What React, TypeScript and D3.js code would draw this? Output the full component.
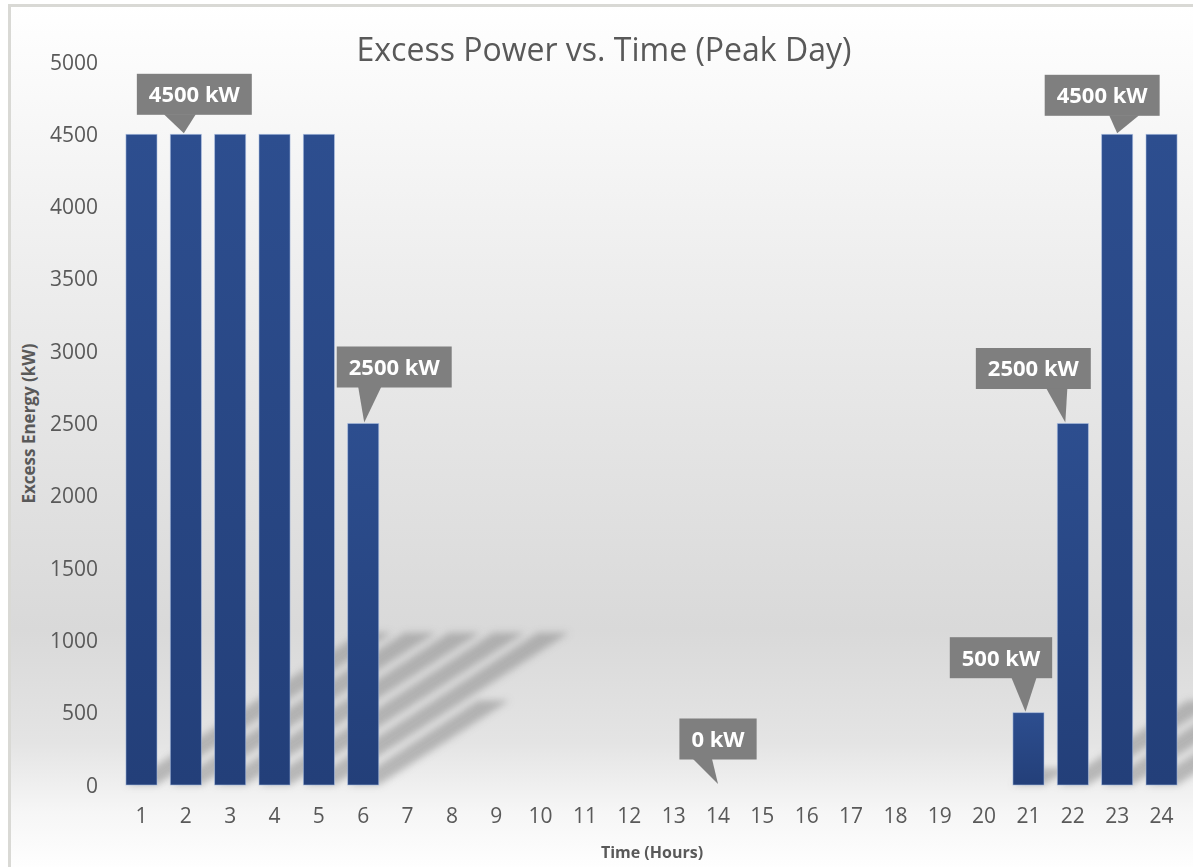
import React from 'react';
import * as d3 from 'd3';

const hours = ['1', '2', '3', '4', '5', '6', '7', '8', '9', '10', '11', '12', '13', '14', '15', '16', '17', '18', '19', '20', '21', '22', '23', '24'];
const excessKW = [4500, 4500, 4500, 4500, 4500, 2500, 0, 0, 0, 0, 0, 0, 0, 0, 0, 0, 0, 0, 0, 0, 500, 2500, 4500, 4500];
const yTicks = [0, 500, 1000, 1500, 2000, 2500, 3000, 3500, 4000, 4500, 5000];

// callouts: which hour they point to
const calloutHours = ['2', '6', '14', '21', '22', '23'];
// callout layout (box offset from bar centre, rise above bar top, pointer base, tip shift)
const calloutDx = [8.5, 31, 0, -27.5, -39.5, -15];
const calloutRise = [40, 56.5, 46, 55, 55, 39];
const calloutBase = [[-20, 12], [-6, 17], [-25, -6], [-14, 11], [-19, 2], [-8, 22]];
const calloutTip = [-2, 1, 0, -3, -7.5, 0];

const W = 1193;
const H = 867;
const FONT = '"Open Sans", "Noto Sans", sans-serif';
const GREY = '#595959';

const App: React.FC = () => {
  const svgRef = React.useRef<SVGSVGElement>(null);

  React.useEffect(() => {
    if (!svgRef.current) return;
    const svg = d3.select(svgRef.current);
    svg.selectAll('*').remove();

    const x = d3.scaleBand<string>()
      .domain(hours)
      .range([119.3, 1183.7])
      .paddingInner(0.3)
      .paddingOuter(0.15);

    const y = d3.scaleLinear().domain([0, 5000]).range([785, 62]);

    const defs = svg.append('defs');

    const bg = defs.append('linearGradient')
      .attr('id', 'bgGrad')
      .attr('x1', 0).attr('y1', 0).attr('x2', 0).attr('y2', 1);
    [[0, '#ffffff'], [0.3, '#eeeeee'], [0.6, '#dfdfdf'], [0.72, '#d9d9d9'], [0.85, '#e4e4e4'], [0.93, '#f6f6f6'], [1, '#ffffff']]
      .forEach(([o, c]) => bg.append('stop').attr('offset', o as number).attr('stop-color', c as string));

    const barGrad = defs.append('linearGradient')
      .attr('id', 'barGrad')
      .attr('x1', 0).attr('y1', 0).attr('x2', 0).attr('y2', 1);
    barGrad.append('stop').attr('offset', 0).attr('stop-color', '#2d4e8f');
    barGrad.append('stop').attr('offset', 1).attr('stop-color', '#233f79');

    defs.append('filter')
      .attr('id', 'blur')
      .attr('x', '-20%').attr('y', '-20%').attr('width', '140%').attr('height', '140%')
      .append('feGaussianBlur')
      .attr('stdDeviation', 3.5);

    defs.append('clipPath')
      .attr('id', 'frameClip')
      .append('rect')
      .attr('x', 10).attr('y', 6).attr('width', W - 10).attr('height', H - 6);

    // Frame + background
    svg.append('rect')
      .attr('x', 9.5).attr('y', 5.5)
      .attr('width', W).attr('height', H)
      .attr('fill', 'url(#bgGrad)')
      .attr('stroke', '#d9d9d5')
      .attr('stroke-width', 3);

    // Perspective shadows of bars
    const shadowScale = 0.234;
    const slope = 1.54;
    const baseY = y(0);
    svg.append('g')
      .attr('clip-path', 'url(#frameClip)')
      .append('g')
      .attr('filter', 'url(#blur)')
      .selectAll('path')
      .data(hours.map((h, i) => ({ h, v: excessKW[i] })).filter(d => d.v > 0))
      .join('path')
      .attr('d', d => {
        const x0 = x(d.h)!;
        const x1 = x0 + x.bandwidth();
        const sh = (baseY - y(d.v)) * shadowScale;
        const dx = sh * slope;
        return `M${x0},${baseY}L${x1},${baseY}L${x1 + dx},${baseY - sh}L${x0 + dx},${baseY - sh}Z`;
      })
      .attr('fill', '#8a8a8a')
      .attr('opacity', 0.55);

    // Bars
    svg.append('g')
      .selectAll('rect')
      .data(hours.map((h, i) => ({ h, v: excessKW[i] })).filter(d => d.v > 0))
      .join('rect')
      .attr('x', d => x(d.h)!)
      .attr('y', d => y(d.v))
      .attr('width', x.bandwidth())
      .attr('height', d => y(0) - y(d.v))
      .attr('fill', 'url(#barGrad)')
      .attr('stroke', 'rgba(170,190,225,0.7)')
      .attr('stroke-width', 0.8);

    // Y axis labels
    svg.append('g')
      .selectAll('text')
      .data(yTicks)
      .join('text')
      .attr('x', 98)
      .attr('y', d => y(d))
      .attr('dy', '0.36em')
      .attr('text-anchor', 'end')
      .style('font-family', FONT)
      .style('font-size', '21px')
      .style('fill', GREY)
      .text(d => String(d));

    // X axis labels
    svg.append('g')
      .selectAll('text')
      .data(hours)
      .join('text')
      .attr('x', d => x(d)! + x.bandwidth() / 2)
      .attr('y', 823)
      .attr('text-anchor', 'middle')
      .style('font-family', FONT)
      .style('font-size', '21px')
      .style('fill', GREY)
      .text(d => d);

    // Axis titles
    svg.append('text')
      .attr('x', 652)
      .attr('y', 858)
      .attr('text-anchor', 'middle')
      .style('font-family', FONT)
      .style('font-size', '16px')
      .style('font-weight', 700)
      .style('fill', GREY)
      .text('Time (Hours)');

    svg.append('text')
      .attr('transform', `translate(35,${(y(0) + y(5000)) / 2}) rotate(-90)`)
      .attr('text-anchor', 'middle')
      .style('font-family', FONT)
      .style('font-size', '17px')
      .style('font-weight', 700)
      .style('fill', GREY)
      .text('Excess Energy (kW)');

    // Title
    svg.append('text')
      .attr('x', 604)
      .attr('y', 61)
      .attr('text-anchor', 'middle')
      .style('font-family', FONT)
      .style('font-size', '32px')
      .style('fill', GREY)
      .text('Excess Power vs. Time (Peak Day)');

    // Callouts
    const cg = svg.append('g');
    calloutHours.forEach((h, i) => {
      const idx = hours.indexOf(h);
      const v = excessKW[idx];
      const cx = x(h)! + x.bandwidth() / 2;
      const top = y(v);
      const bcx = cx + calloutDx[i];
      const bcy = top - calloutRise[i];
      const bh = 41;
      const g = cg.append('g');
      const rect = g.append('rect').attr('fill', '#7f7f7f');
      const path = g.append('path').attr('fill', '#7f7f7f');
      const t = g.append('text')
        .attr('x', bcx)
        .attr('y', bcy)
        .attr('dy', '0.36em')
        .attr('text-anchor', 'middle')
        .style('font-family', FONT)
        .style('font-size', '22px')
        .style('font-weight', 700)
        .style('fill', '#ffffff')
        .text(`${v} kW`);
      const tw = (t.node() as SVGTextElement).getComputedTextLength();
      const bw = tw + 24;
      rect.attr('x', bcx - bw / 2).attr('y', bcy - bh / 2).attr('width', bw).attr('height', bh);
      const tipX = cx + calloutTip[i];
      const tipY = top - 1;
      const by = bcy + bh / 2 - 0.5;
      path.attr('d', `M${tipX + calloutBase[i][0]},${by}L${tipX + calloutBase[i][1]},${by}L${tipX},${tipY}Z`);
    });
  }, []);

  return (
    <div style={{ position: 'absolute', left: 0, top: 0, width: W, height: H, background: '#ffffff' }}>
      <svg ref={svgRef} width={W} height={H} viewBox={`0 0 ${W} ${H}`}></svg>
    </div>
  );
};

export default App;
